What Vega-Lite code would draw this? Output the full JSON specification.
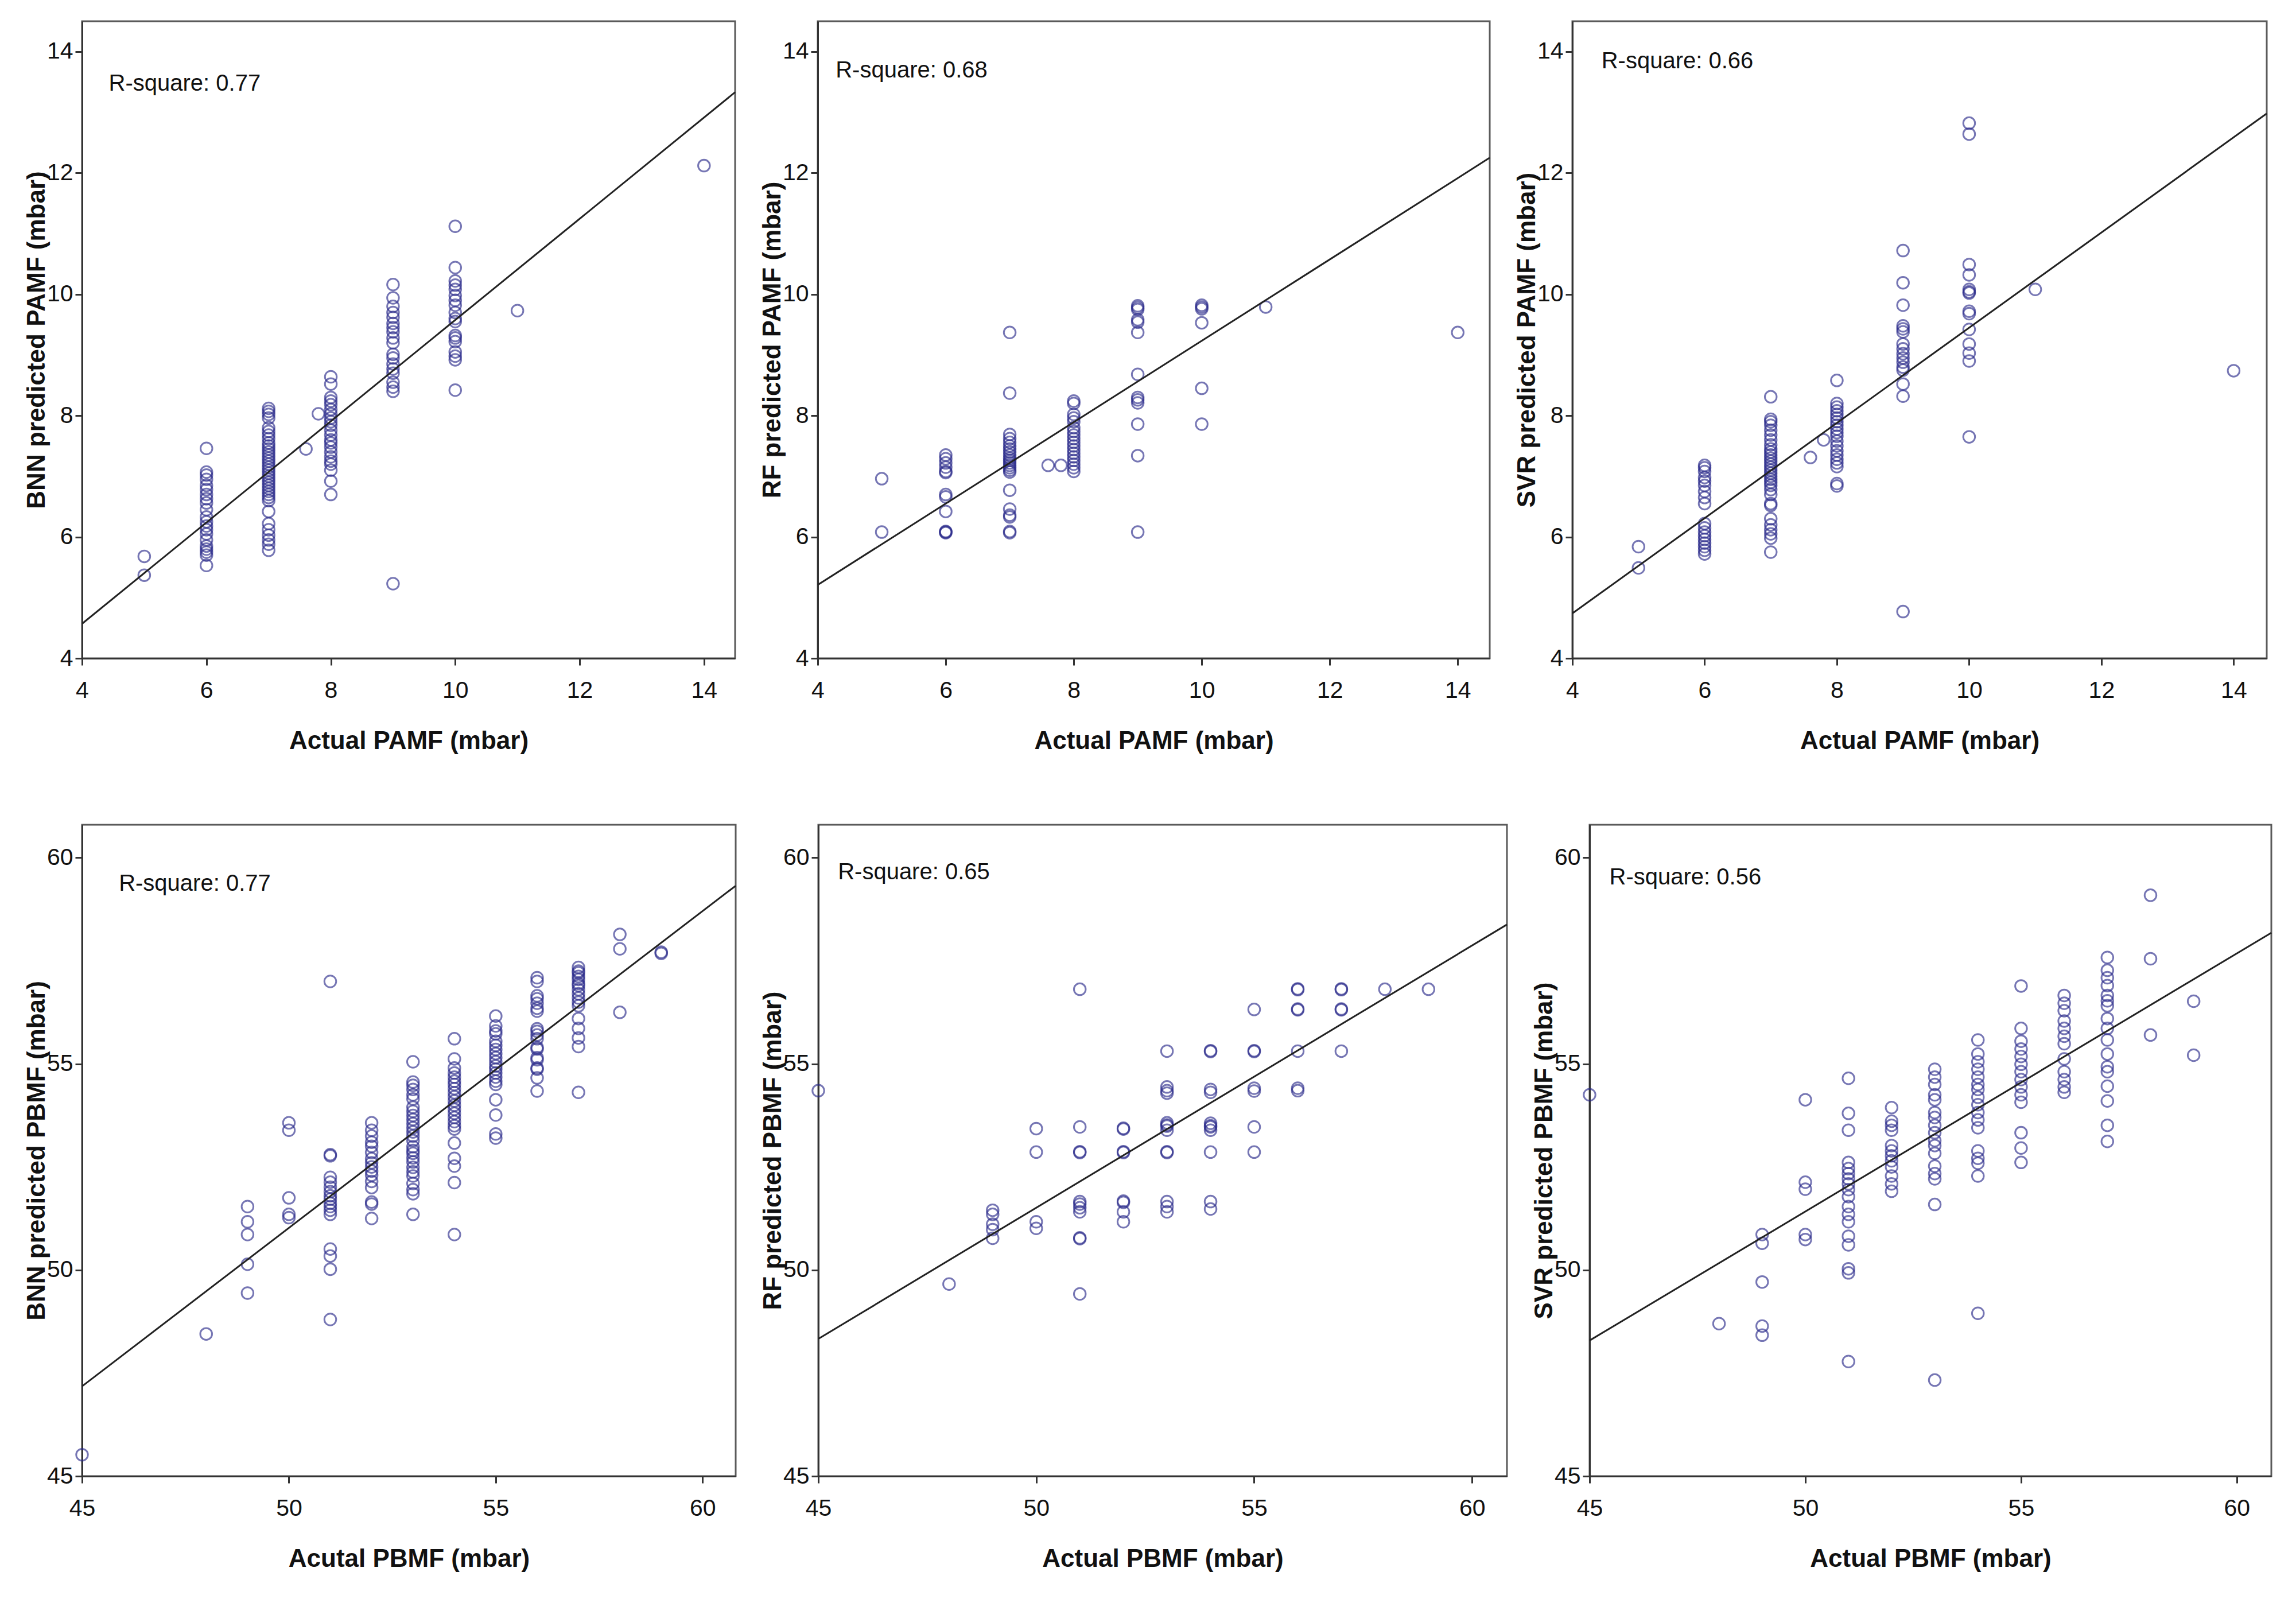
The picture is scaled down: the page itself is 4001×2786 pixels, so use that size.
{
  "$schema": "https://vega.github.io/schema/vega-lite/v6.json",
  "background": "white",
  "padding": {"left": 40, "top": 35, "right": 0, "bottom": 0},
  "config": {
    "font": "Liberation Sans",
    "view": {"stroke": "#5a5a5a", "strokeWidth": 3},
    "axis": {
      "grid": false,
      "domainColor": "#333333",
      "domainWidth": 3,
      "tickColor": "#333333",
      "tickWidth": 3,
      "tickSize": 12,
      "labelFont": "Liberation Sans",
      "labelFontSize": 41,
      "labelColor": "#111111",
      "labelFlush": false,
      "labelOverlap": false,
      "labelBound": false,
      "titleFont": "Liberation Sans",
      "titleFontSize": 44,
      "titleFontWeight": "bold",
      "titleColor": "#111111"
    },
    "axisX": {"labelBaseline": "alphabetic", "labelPadding": 56, "titleBaseline": "alphabetic", "titleY": 157},
    "axisY": {"labelPadding": 4, "labelBaseline": "middle", "titleBaseline": "alphabetic", "titleX": -66},
    "point": {"shape": "circle", "filled": false, "size": 420, "strokeWidth": 3, "color": "#28288a", "strokeOpacity": 0.9, "clip": true},
    "line": {"color": "#222222", "strokeWidth": 3, "clip": true},
    "text": {"font": "Liberation Sans", "fontSize": 40, "color": "#111111", "align": "left", "baseline": "middle"}
  },
  "datasets": {
    "p1": [
      {"x":5,"y":5.68},{"x":5,"y":5.37},
      {"x":6,"y":7.46},{"x":6,"y":7.07},{"x":6,"y":7.02},{"x":6,"y":6.95},{"x":6,"y":6.85},{"x":6,"y":6.78},{"x":6,"y":6.70},{"x":6,"y":6.63},{"x":6,"y":6.56},{"x":6,"y":6.45},{"x":6,"y":6.33},{"x":6,"y":6.25},{"x":6,"y":6.18},{"x":6,"y":6.12},{"x":6,"y":6.05},{"x":6,"y":5.95},{"x":6,"y":5.85},{"x":6,"y":5.80},{"x":6,"y":5.75},{"x":6,"y":5.70},{"x":6,"y":5.53},
      {"x":7,"y":8.12},{"x":7,"y":8.07},{"x":7,"y":8.02},{"x":7,"y":7.96},{"x":7,"y":7.80},{"x":7,"y":7.74},{"x":7,"y":7.68},{"x":7,"y":7.62},{"x":7,"y":7.55},{"x":7,"y":7.50},{"x":7,"y":7.45},{"x":7,"y":7.40},{"x":7,"y":7.35},{"x":7,"y":7.30},{"x":7,"y":7.25},{"x":7,"y":7.20},{"x":7,"y":7.15},{"x":7,"y":7.10},{"x":7,"y":7.05},{"x":7,"y":7.00},{"x":7,"y":6.95},{"x":7,"y":6.90},{"x":7,"y":6.85},{"x":7,"y":6.80},{"x":7,"y":6.75},{"x":7,"y":6.70},{"x":7,"y":6.65},{"x":7,"y":6.60},{"x":7,"y":6.42},{"x":7,"y":6.22},{"x":7,"y":6.12},{"x":7,"y":6.03},{"x":7,"y":5.95},{"x":7,"y":5.88},{"x":7,"y":5.78},
      {"x":7.6,"y":7.45},{"x":7.8,"y":8.03},
      {"x":8,"y":8.64},{"x":8,"y":8.52},{"x":8,"y":8.30},{"x":8,"y":8.24},{"x":8,"y":8.18},{"x":8,"y":8.10},{"x":8,"y":8.03},{"x":8,"y":7.96},{"x":8,"y":7.90},{"x":8,"y":7.84},{"x":8,"y":7.76},{"x":8,"y":7.68},{"x":8,"y":7.60},{"x":8,"y":7.55},{"x":8,"y":7.48},{"x":8,"y":7.40},{"x":8,"y":7.32},{"x":8,"y":7.25},{"x":8,"y":7.20},{"x":8,"y":7.10},{"x":8,"y":6.92},{"x":8,"y":6.70},
      {"x":9,"y":10.16},{"x":9,"y":9.94},{"x":9,"y":9.80},{"x":9,"y":9.70},{"x":9,"y":9.62},{"x":9,"y":9.52},{"x":9,"y":9.45},{"x":9,"y":9.38},{"x":9,"y":9.28},{"x":9,"y":9.20},{"x":9,"y":9.01},{"x":9,"y":8.95},{"x":9,"y":8.85},{"x":9,"y":8.77},{"x":9,"y":8.70},{"x":9,"y":8.55},{"x":9,"y":8.47},{"x":9,"y":8.40},{"x":9,"y":5.23},
      {"x":10,"y":11.12},{"x":10,"y":10.44},{"x":10,"y":10.22},{"x":10,"y":10.15},{"x":10,"y":10.08},{"x":10,"y":9.98},{"x":10,"y":9.90},{"x":10,"y":9.82},{"x":10,"y":9.70},{"x":10,"y":9.60},{"x":10,"y":9.55},{"x":10,"y":9.32},{"x":10,"y":9.28},{"x":10,"y":9.22},{"x":10,"y":9.05},{"x":10,"y":8.98},{"x":10,"y":8.92},{"x":10,"y":8.42},
      {"x":11,"y":9.73},{"x":14,"y":12.12}
    ],
    "p2": [
      {"x":5,"y":6.96},{"x":5,"y":6.08},
      {"x":6,"y":7.35},{"x":6,"y":7.29},{"x":6,"y":7.22},{"x":6,"y":7.15},{"x":6,"y":7.08},{"x":6,"y":7.06},{"x":6,"y":6.70},{"x":6,"y":6.66},{"x":6,"y":6.42},{"x":6,"y":6.09},{"x":6,"y":6.08},{"x":6,"y":6.07},
      {"x":7,"y":9.37},{"x":7,"y":8.37},{"x":7,"y":7.69},{"x":7,"y":7.62},{"x":7,"y":7.56},{"x":7,"y":7.50},{"x":7,"y":7.45},{"x":7,"y":7.40},{"x":7,"y":7.35},{"x":7,"y":7.30},{"x":7,"y":7.26},{"x":7,"y":7.22},{"x":7,"y":7.18},{"x":7,"y":7.14},{"x":7,"y":7.10},{"x":7,"y":7.07},{"x":7,"y":6.77},{"x":7,"y":6.46},{"x":7,"y":6.36},{"x":7,"y":6.33},{"x":7,"y":6.09},{"x":7,"y":6.07},
      {"x":7.6,"y":7.18},{"x":7.8,"y":7.18},
      {"x":8,"y":8.24},{"x":8,"y":8.20},{"x":8,"y":8.02},{"x":8,"y":7.96},{"x":8,"y":7.90},{"x":8,"y":7.80},{"x":8,"y":7.74},{"x":8,"y":7.68},{"x":8,"y":7.62},{"x":8,"y":7.56},{"x":8,"y":7.50},{"x":8,"y":7.44},{"x":8,"y":7.38},{"x":8,"y":7.32},{"x":8,"y":7.26},{"x":8,"y":7.20},{"x":8,"y":7.14},{"x":8,"y":7.08},
      {"x":9,"y":9.81},{"x":9,"y":9.78},{"x":9,"y":9.75},{"x":9,"y":9.58},{"x":9,"y":9.54},{"x":9,"y":9.37},{"x":9,"y":8.68},{"x":9,"y":8.30},{"x":9,"y":8.26},{"x":9,"y":8.21},{"x":9,"y":7.86},{"x":9,"y":7.34},{"x":9,"y":6.08},
      {"x":10,"y":9.82},{"x":10,"y":9.79},{"x":10,"y":9.76},{"x":10,"y":9.53},{"x":10,"y":8.45},{"x":10,"y":7.86},
      {"x":11,"y":9.79},{"x":14,"y":9.37}
    ],
    "p3": [
      {"x":5,"y":5.84},{"x":5,"y":5.49},
      {"x":6,"y":7.18},{"x":6,"y":7.14},{"x":6,"y":7.08},{"x":6,"y":6.98},{"x":6,"y":6.92},{"x":6,"y":6.85},{"x":6,"y":6.75},{"x":6,"y":6.65},{"x":6,"y":6.55},{"x":6,"y":6.22},{"x":6,"y":6.15},{"x":6,"y":6.08},{"x":6,"y":6.02},{"x":6,"y":5.96},{"x":6,"y":5.90},{"x":6,"y":5.84},{"x":6,"y":5.78},{"x":6,"y":5.72},
      {"x":7,"y":8.31},{"x":7,"y":7.94},{"x":7,"y":7.90},{"x":7,"y":7.84},{"x":7,"y":7.76},{"x":7,"y":7.68},{"x":7,"y":7.60},{"x":7,"y":7.52},{"x":7,"y":7.45},{"x":7,"y":7.40},{"x":7,"y":7.35},{"x":7,"y":7.30},{"x":7,"y":7.25},{"x":7,"y":7.20},{"x":7,"y":7.15},{"x":7,"y":7.10},{"x":7,"y":7.05},{"x":7,"y":7.00},{"x":7,"y":6.95},{"x":7,"y":6.90},{"x":7,"y":6.85},{"x":7,"y":6.78},{"x":7,"y":6.70},{"x":7,"y":6.55},{"x":7,"y":6.52},{"x":7,"y":6.30},{"x":7,"y":6.20},{"x":7,"y":6.12},{"x":7,"y":6.05},{"x":7,"y":5.98},{"x":7,"y":5.75},
      {"x":7.6,"y":7.31},{"x":7.8,"y":7.60},
      {"x":8,"y":8.58},{"x":8,"y":8.20},{"x":8,"y":8.14},{"x":8,"y":8.08},{"x":8,"y":8.02},{"x":8,"y":7.96},{"x":8,"y":7.90},{"x":8,"y":7.84},{"x":8,"y":7.78},{"x":8,"y":7.72},{"x":8,"y":7.66},{"x":8,"y":7.58},{"x":8,"y":7.50},{"x":8,"y":7.42},{"x":8,"y":7.35},{"x":8,"y":7.28},{"x":8,"y":7.22},{"x":8,"y":7.16},{"x":8,"y":6.88},{"x":8,"y":6.84},
      {"x":9,"y":10.72},{"x":9,"y":10.19},{"x":9,"y":9.82},{"x":9,"y":9.48},{"x":9,"y":9.43},{"x":9,"y":9.38},{"x":9,"y":9.18},{"x":9,"y":9.10},{"x":9,"y":9.02},{"x":9,"y":8.95},{"x":9,"y":8.88},{"x":9,"y":8.80},{"x":9,"y":8.75},{"x":9,"y":8.52},{"x":9,"y":8.32},{"x":9,"y":4.77},
      {"x":10,"y":12.82},{"x":10,"y":12.64},{"x":10,"y":10.49},{"x":10,"y":10.32},{"x":10,"y":10.08},{"x":10,"y":10.04},{"x":10,"y":10.02},{"x":10,"y":9.72},{"x":10,"y":9.68},{"x":10,"y":9.42},{"x":10,"y":9.18},{"x":10,"y":9.03},{"x":10,"y":8.90},{"x":10,"y":7.65},
      {"x":11,"y":10.08},{"x":14,"y":8.74}
    ],
    "p4": [
      {"x":45,"y":45.52},{"x":48,"y":48.45},
      {"x":49,"y":51.54},{"x":49,"y":51.17},{"x":49,"y":50.86},{"x":49,"y":50.14},{"x":49,"y":49.44},
      {"x":50,"y":53.57},{"x":50,"y":53.39},{"x":50,"y":51.75},{"x":50,"y":51.35},{"x":50,"y":51.27},
      {"x":51,"y":57.00},{"x":51,"y":52.80},{"x":51,"y":52.77},{"x":51,"y":52.25},{"x":51,"y":52.13},{"x":51,"y":52.01},{"x":51,"y":51.90},{"x":51,"y":51.80},{"x":51,"y":51.72},{"x":51,"y":51.62},{"x":51,"y":51.54},{"x":51,"y":51.45},{"x":51,"y":51.35},{"x":51,"y":50.51},{"x":51,"y":50.34},{"x":51,"y":50.02},{"x":51,"y":48.80},
      {"x":52,"y":53.57},{"x":52,"y":53.39},{"x":52,"y":53.25},{"x":52,"y":53.10},{"x":52,"y":53.00},{"x":52,"y":52.85},{"x":52,"y":52.70},{"x":52,"y":52.60},{"x":52,"y":52.50},{"x":52,"y":52.40},{"x":52,"y":52.30},{"x":52,"y":52.15},{"x":52,"y":52.00},{"x":52,"y":51.65},{"x":52,"y":51.60},{"x":52,"y":51.25},
      {"x":53,"y":55.05},{"x":53,"y":54.56},{"x":53,"y":54.48},{"x":53,"y":54.38},{"x":53,"y":54.25},{"x":53,"y":54.15},{"x":53,"y":53.95},{"x":53,"y":53.85},{"x":53,"y":53.75},{"x":53,"y":53.65},{"x":53,"y":53.55},{"x":53,"y":53.45},{"x":53,"y":53.35},{"x":53,"y":53.25},{"x":53,"y":53.14},{"x":53,"y":52.99},{"x":53,"y":52.90},{"x":53,"y":52.83},{"x":53,"y":52.72},{"x":53,"y":52.62},{"x":53,"y":52.49},{"x":53,"y":52.38},{"x":53,"y":52.28},{"x":53,"y":52.10},{"x":53,"y":51.95},{"x":53,"y":51.85},{"x":53,"y":51.35},
      {"x":54,"y":55.61},{"x":54,"y":55.12},{"x":54,"y":54.90},{"x":54,"y":54.78},{"x":54,"y":54.68},{"x":54,"y":54.58},{"x":54,"y":54.50},{"x":54,"y":54.40},{"x":54,"y":54.30},{"x":54,"y":54.20},{"x":54,"y":54.10},{"x":54,"y":54.00},{"x":54,"y":53.90},{"x":54,"y":53.80},{"x":54,"y":53.70},{"x":54,"y":53.60},{"x":54,"y":53.50},{"x":54,"y":53.42},{"x":54,"y":53.08},{"x":54,"y":52.71},{"x":54,"y":52.52},{"x":54,"y":52.12},{"x":54,"y":50.86},
      {"x":55,"y":56.16},{"x":55,"y":55.92},{"x":55,"y":55.80},{"x":55,"y":55.73},{"x":55,"y":55.55},{"x":55,"y":55.45},{"x":55,"y":55.35},{"x":55,"y":55.25},{"x":55,"y":55.15},{"x":55,"y":55.05},{"x":55,"y":54.95},{"x":55,"y":54.87},{"x":55,"y":54.78},{"x":55,"y":54.68},{"x":55,"y":54.58},{"x":55,"y":54.50},{"x":55,"y":54.13},{"x":55,"y":53.76},{"x":55,"y":53.30},{"x":55,"y":53.20},
      {"x":56,"y":57.09},{"x":56,"y":57.00},{"x":56,"y":56.65},{"x":56,"y":56.58},{"x":56,"y":56.47},{"x":56,"y":56.35},{"x":56,"y":56.28},{"x":56,"y":55.85},{"x":56,"y":55.79},{"x":56,"y":55.70},{"x":56,"y":55.61},{"x":56,"y":55.40},{"x":56,"y":55.36},{"x":56,"y":55.15},{"x":56,"y":55.10},{"x":56,"y":54.90},{"x":56,"y":54.87},{"x":56,"y":54.66},{"x":56,"y":54.34},
      {"x":57,"y":57.34},{"x":57,"y":57.25},{"x":57,"y":57.21},{"x":57,"y":57.12},{"x":57,"y":57.05},{"x":57,"y":56.95},{"x":57,"y":56.90},{"x":57,"y":56.80},{"x":57,"y":56.70},{"x":57,"y":56.60},{"x":57,"y":56.50},{"x":57,"y":56.41},{"x":57,"y":56.10},{"x":57,"y":55.86},{"x":57,"y":55.63},{"x":57,"y":55.42},{"x":57,"y":54.31},
      {"x":58,"y":58.14},{"x":58,"y":57.79},{"x":58,"y":56.25},
      {"x":59,"y":57.71},{"x":59,"y":57.68}
    ],
    "p5": [
      {"x":45,"y":54.35},{"x":48,"y":49.66},
      {"x":49,"y":51.45},{"x":49,"y":51.35},{"x":49,"y":51.11},{"x":49,"y":50.98},{"x":49,"y":50.77},
      {"x":50,"y":53.43},{"x":50,"y":52.86},{"x":50,"y":51.17},{"x":50,"y":51.01},
      {"x":51,"y":56.81},{"x":51,"y":53.47},{"x":51,"y":52.87},{"x":51,"y":52.85},{"x":51,"y":51.66},{"x":51,"y":51.60},{"x":51,"y":51.51},{"x":51,"y":51.41},{"x":51,"y":50.78},{"x":51,"y":50.76},{"x":51,"y":49.42},
      {"x":52,"y":53.44},{"x":52,"y":53.42},{"x":52,"y":52.87},{"x":52,"y":52.85},{"x":52,"y":51.67},{"x":52,"y":51.64},{"x":52,"y":51.41},{"x":52,"y":51.17},
      {"x":53,"y":55.31},{"x":53,"y":54.44},{"x":53,"y":54.35},{"x":53,"y":54.29},{"x":53,"y":53.57},{"x":53,"y":53.52},{"x":53,"y":53.49},{"x":53,"y":53.39},{"x":53,"y":52.87},{"x":53,"y":52.85},{"x":53,"y":51.66},{"x":53,"y":51.54},{"x":53,"y":51.41},
      {"x":54,"y":55.32},{"x":54,"y":55.30},{"x":54,"y":54.38},{"x":54,"y":54.31},{"x":54,"y":53.56},{"x":54,"y":53.50},{"x":54,"y":53.47},{"x":54,"y":53.39},{"x":54,"y":52.86},{"x":54,"y":51.66},{"x":54,"y":51.48},
      {"x":55,"y":56.32},{"x":55,"y":55.32},{"x":55,"y":55.30},{"x":55,"y":54.41},{"x":55,"y":54.34},{"x":55,"y":53.47},{"x":55,"y":52.86},
      {"x":56,"y":56.82},{"x":56,"y":56.80},{"x":56,"y":56.33},{"x":56,"y":56.31},{"x":56,"y":55.31},{"x":56,"y":54.41},{"x":56,"y":54.35},
      {"x":57,"y":56.82},{"x":57,"y":56.80},{"x":57,"y":56.33},{"x":57,"y":56.31},{"x":57,"y":55.31},
      {"x":58,"y":56.81},{"x":59,"y":56.81}
    ],
    "p6": [
      {"x":45,"y":54.25},{"x":48,"y":48.70},
      {"x":49,"y":50.86},{"x":49,"y":50.65},{"x":49,"y":49.71},{"x":49,"y":48.64},{"x":49,"y":48.42},
      {"x":50,"y":54.13},{"x":50,"y":52.13},{"x":50,"y":51.96},{"x":50,"y":50.86},{"x":50,"y":50.74},
      {"x":51,"y":54.65},{"x":51,"y":53.80},{"x":51,"y":53.39},{"x":51,"y":52.61},{"x":51,"y":52.46},{"x":51,"y":52.34},{"x":51,"y":52.21},{"x":51,"y":52.09},{"x":51,"y":51.95},{"x":51,"y":51.78},{"x":51,"y":51.54},{"x":51,"y":51.35},{"x":51,"y":51.17},{"x":51,"y":50.82},{"x":51,"y":50.61},{"x":51,"y":50.03},{"x":51,"y":49.93},{"x":51,"y":47.78},
      {"x":52,"y":53.94},{"x":52,"y":53.61},{"x":52,"y":53.51},{"x":52,"y":53.39},{"x":52,"y":53.02},{"x":52,"y":52.89},{"x":52,"y":52.77},{"x":52,"y":52.65},{"x":52,"y":52.50},{"x":52,"y":52.28},{"x":52,"y":52.09},{"x":52,"y":51.91},
      {"x":53,"y":54.87},{"x":53,"y":54.68},{"x":53,"y":54.50},{"x":53,"y":54.25},{"x":53,"y":54.13},{"x":53,"y":53.82},{"x":53,"y":53.70},{"x":53,"y":53.51},{"x":53,"y":53.33},{"x":53,"y":53.14},{"x":53,"y":53.02},{"x":53,"y":52.83},{"x":53,"y":52.52},{"x":53,"y":52.34},{"x":53,"y":52.21},{"x":53,"y":51.59},{"x":53,"y":47.33},
      {"x":54,"y":55.58},{"x":54,"y":55.24},{"x":54,"y":55.05},{"x":54,"y":54.87},{"x":54,"y":54.68},{"x":54,"y":54.50},{"x":54,"y":54.38},{"x":54,"y":54.19},{"x":54,"y":54.01},{"x":54,"y":53.82},{"x":54,"y":53.64},{"x":54,"y":53.45},{"x":54,"y":52.89},{"x":54,"y":52.71},{"x":54,"y":52.59},{"x":54,"y":52.28},{"x":54,"y":48.95},
      {"x":55,"y":56.89},{"x":55,"y":55.86},{"x":55,"y":55.55},{"x":55,"y":55.36},{"x":55,"y":55.18},{"x":55,"y":54.99},{"x":55,"y":54.81},{"x":55,"y":54.62},{"x":55,"y":54.44},{"x":55,"y":54.25},{"x":55,"y":54.07},{"x":55,"y":53.33},{"x":55,"y":52.96},{"x":55,"y":52.61},
      {"x":56,"y":56.66},{"x":56,"y":56.47},{"x":56,"y":56.29},{"x":56,"y":56.04},{"x":56,"y":55.86},{"x":56,"y":55.67},{"x":56,"y":55.49},{"x":56,"y":55.12},{"x":56,"y":54.81},{"x":56,"y":54.62},{"x":56,"y":54.44},{"x":56,"y":54.31},
      {"x":57,"y":57.58},{"x":57,"y":57.27},{"x":57,"y":57.09},{"x":57,"y":56.90},{"x":57,"y":56.66},{"x":57,"y":56.53},{"x":57,"y":56.41},{"x":57,"y":56.10},{"x":57,"y":55.86},{"x":57,"y":55.58},{"x":57,"y":55.24},{"x":57,"y":54.93},{"x":57,"y":54.81},{"x":57,"y":54.46},{"x":57,"y":54.10},{"x":57,"y":53.51},{"x":57,"y":53.12},
      {"x":58,"y":59.09},{"x":58,"y":57.55},{"x":58,"y":55.70},
      {"x":59,"y":56.52},{"x":59,"y":55.21}
    ],
    "l1": [{"x":4,"y":4.57},{"x":14.5,"y":13.33}],
    "l2": [{"x":4,"y":5.21},{"x":14.5,"y":12.25}],
    "l3": [{"x":4,"y":4.74},{"x":14.5,"y":12.98}],
    "l4": [{"x":45,"y":47.18},{"x":60.8,"y":59.32}],
    "l5": [{"x":45,"y":48.33},{"x":60.8,"y":58.38}],
    "l6": [{"x":45,"y":48.29},{"x":60.8,"y":58.18}]
  },
  "bounds": "full",
  "spacing": 120,
  "vconcat": [
    {
      "bounds": "flush",
      "spacing": 144,
      "hconcat": [
        {
          "width": 1138, "height": 1110,
          "layer": [
            {"data": {"name": "p1"}, "mark": "point",
             "encoding": {
               "x": {"field": "x", "type": "quantitative", "scale": {"domain": [4, 14.5], "nice": false, "zero": false}, "axis": {"title": "Actual PAMF (mbar)", "values": [4, 6, 8, 10, 12, 14]}},
               "y": {"field": "y", "type": "quantitative", "scale": {"domain": [4, 14.5], "nice": false, "zero": false}, "axis": {"title": "BNN predicted PAMF (mbar)", "values": [4, 6, 8, 10, 12, 14]}}}},
            {"data": {"name": "l1"}, "mark": "line",
             "encoding": {
               "x": {"field": "x", "type": "quantitative", "axis": {"title": "Actual PAMF (mbar)", "values": [4, 6, 8, 10, 12, 14]}},
               "y": {"field": "y", "type": "quantitative", "axis": {"title": "BNN predicted PAMF (mbar)", "values": [4, 6, 8, 10, 12, 14]}}}},
            {"data": {"values": [{}]}, "mark": "text",
             "encoding": {
               "x": {"datum": 4.43, "type": "quantitative", "axis": {"title": "Actual PAMF (mbar)", "values": [4, 6, 8, 10, 12, 14]}},
               "y": {"datum": 13.47, "type": "quantitative", "axis": {"title": "BNN predicted PAMF (mbar)", "values": [4, 6, 8, 10, 12, 14]}},
               "text": {"value": "R-square: 0.77"}}}
          ]
        },
        {
          "width": 1171, "height": 1110,
          "layer": [
            {"data": {"name": "p2"}, "mark": "point",
             "encoding": {
               "x": {"field": "x", "type": "quantitative", "scale": {"domain": [4, 14.5], "nice": false, "zero": false}, "axis": {"title": "Actual PAMF (mbar)", "values": [4, 6, 8, 10, 12, 14]}},
               "y": {"field": "y", "type": "quantitative", "scale": {"domain": [4, 14.5], "nice": false, "zero": false}, "axis": {"title": "RF predicted PAMF (mbar)", "values": [4, 6, 8, 10, 12, 14]}}}},
            {"data": {"name": "l2"}, "mark": "line",
             "encoding": {
               "x": {"field": "x", "type": "quantitative", "axis": {"title": "Actual PAMF (mbar)", "values": [4, 6, 8, 10, 12, 14]}},
               "y": {"field": "y", "type": "quantitative", "axis": {"title": "RF predicted PAMF (mbar)", "values": [4, 6, 8, 10, 12, 14]}}}},
            {"data": {"values": [{}]}, "mark": "text",
             "encoding": {
               "x": {"datum": 4.28, "type": "quantitative", "axis": {"title": "Actual PAMF (mbar)", "values": [4, 6, 8, 10, 12, 14]}},
               "y": {"datum": 13.69, "type": "quantitative", "axis": {"title": "RF predicted PAMF (mbar)", "values": [4, 6, 8, 10, 12, 14]}},
               "text": {"value": "R-square: 0.68"}}}
          ]
        },
        {
          "width": 1210, "height": 1110,
          "layer": [
            {"data": {"name": "p3"}, "mark": "point",
             "encoding": {
               "x": {"field": "x", "type": "quantitative", "scale": {"domain": [4, 14.5], "nice": false, "zero": false}, "axis": {"title": "Actual PAMF (mbar)", "values": [4, 6, 8, 10, 12, 14]}},
               "y": {"field": "y", "type": "quantitative", "scale": {"domain": [4, 14.5], "nice": false, "zero": false}, "axis": {"title": "SVR predicted PAMF (mbar)", "values": [4, 6, 8, 10, 12, 14]}}}},
            {"data": {"name": "l3"}, "mark": "line",
             "encoding": {
               "x": {"field": "x", "type": "quantitative", "axis": {"title": "Actual PAMF (mbar)", "values": [4, 6, 8, 10, 12, 14]}},
               "y": {"field": "y", "type": "quantitative", "axis": {"title": "SVR predicted PAMF (mbar)", "values": [4, 6, 8, 10, 12, 14]}}}},
            {"data": {"values": [{}]}, "mark": "text",
             "encoding": {
               "x": {"datum": 4.44, "type": "quantitative", "axis": {"title": "Actual PAMF (mbar)", "values": [4, 6, 8, 10, 12, 14]}},
               "y": {"datum": 13.84, "type": "quantitative", "axis": {"title": "SVR predicted PAMF (mbar)", "values": [4, 6, 8, 10, 12, 14]}},
               "text": {"value": "R-square: 0.66"}}}
          ]
        }
      ]
    },
    {
      "bounds": "flush",
      "spacing": 144,
      "hconcat": [
        {
          "width": 1139, "height": 1135,
          "layer": [
            {"data": {"name": "p4"}, "mark": "point",
             "encoding": {
               "x": {"field": "x", "type": "quantitative", "scale": {"domain": [45, 60.8], "nice": false, "zero": false}, "axis": {"title": "Acutal PBMF (mbar)", "values": [45, 50, 55, 60]}},
               "y": {"field": "y", "type": "quantitative", "scale": {"domain": [45, 60.8], "nice": false, "zero": false}, "axis": {"title": "BNN predicted PBMF (mbar)", "values": [45, 50, 55, 60]}}}},
            {"data": {"name": "l4"}, "mark": "line",
             "encoding": {
               "x": {"field": "x", "type": "quantitative", "axis": {"title": "Acutal PBMF (mbar)", "values": [45, 50, 55, 60]}},
               "y": {"field": "y", "type": "quantitative", "axis": {"title": "BNN predicted PBMF (mbar)", "values": [45, 50, 55, 60]}}}},
            {"data": {"values": [{}]}, "mark": "text",
             "encoding": {
               "x": {"datum": 45.89, "type": "quantitative", "axis": {"title": "Acutal PBMF (mbar)", "values": [45, 50, 55, 60]}},
               "y": {"datum": 59.37, "type": "quantitative", "axis": {"title": "BNN predicted PBMF (mbar)", "values": [45, 50, 55, 60]}},
               "text": {"value": "R-square: 0.77"}}}
          ]
        },
        {
          "width": 1200, "height": 1135,
          "layer": [
            {"data": {"name": "p5"}, "mark": "point",
             "encoding": {
               "x": {"field": "x", "type": "quantitative", "scale": {"domain": [45, 60.8], "nice": false, "zero": false}, "axis": {"title": "Actual PBMF (mbar)", "values": [45, 50, 55, 60]}},
               "y": {"field": "y", "type": "quantitative", "scale": {"domain": [45, 60.8], "nice": false, "zero": false}, "axis": {"title": "RF predicted PBMF (mbar)", "values": [45, 50, 55, 60]}}}},
            {"data": {"name": "l5"}, "mark": "line",
             "encoding": {
               "x": {"field": "x", "type": "quantitative", "axis": {"title": "Actual PBMF (mbar)", "values": [45, 50, 55, 60]}},
               "y": {"field": "y", "type": "quantitative", "axis": {"title": "RF predicted PBMF (mbar)", "values": [45, 50, 55, 60]}}}},
            {"data": {"values": [{}]}, "mark": "text",
             "encoding": {
               "x": {"datum": 45.45, "type": "quantitative", "axis": {"title": "Actual PBMF (mbar)", "values": [45, 50, 55, 60]}},
               "y": {"datum": 59.64, "type": "quantitative", "axis": {"title": "RF predicted PBMF (mbar)", "values": [45, 50, 55, 60]}},
               "text": {"value": "R-square: 0.65"}}}
          ]
        },
        {
          "width": 1188, "height": 1135,
          "layer": [
            {"data": {"name": "p6"}, "mark": "point",
             "encoding": {
               "x": {"field": "x", "type": "quantitative", "scale": {"domain": [45, 60.8], "nice": false, "zero": false}, "axis": {"title": "Actual PBMF (mbar)", "values": [45, 50, 55, 60]}},
               "y": {"field": "y", "type": "quantitative", "scale": {"domain": [45, 60.8], "nice": false, "zero": false}, "axis": {"title": "SVR predicted PBMF (mbar)", "values": [45, 50, 55, 60]}}}},
            {"data": {"name": "l6"}, "mark": "line",
             "encoding": {
               "x": {"field": "x", "type": "quantitative", "axis": {"title": "Actual PBMF (mbar)", "values": [45, 50, 55, 60]}},
               "y": {"field": "y", "type": "quantitative", "axis": {"title": "SVR predicted PBMF (mbar)", "values": [45, 50, 55, 60]}}}},
            {"data": {"values": [{}]}, "mark": "text",
             "encoding": {
               "x": {"datum": 45.46, "type": "quantitative", "axis": {"title": "Actual PBMF (mbar)", "values": [45, 50, 55, 60]}},
               "y": {"datum": 59.52, "type": "quantitative", "axis": {"title": "SVR predicted PBMF (mbar)", "values": [45, 50, 55, 60]}},
               "text": {"value": "R-square: 0.56"}}}
          ]
        }
      ]
    }
  ]
}
